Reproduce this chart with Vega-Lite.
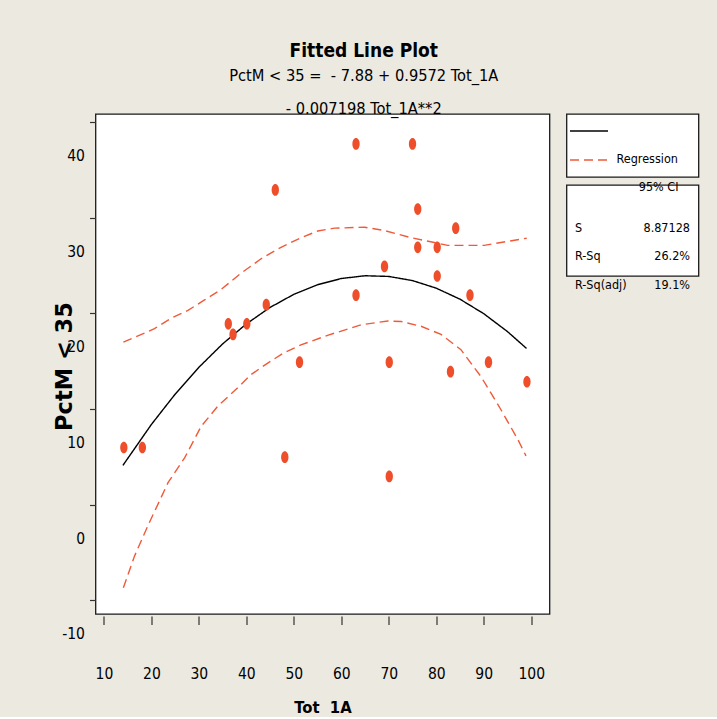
{
  "$schema": "https://vega.github.io/schema/vega-lite/v6.json",
  "background": "#ECE9E0",
  "padding": {"left": 51.5, "top": 42, "right": 18, "bottom": 0},
  "config": {
    "view": {"stroke": "#1a1a1a", "strokeWidth": 1.3, "fill": "white"},
    "font": "DejaVu Sans Condensed"
  },
  "title": {
    "text": "Fitted Line Plot",
    "subtitle": ["PctM < 35 =\u00a0 - 7.88 + 0.9572 Tot_1A", "- 0.007198 Tot_1A**2"],
    "anchor": "middle",
    "dx": -12,
    "font": "DejaVu Sans Condensed",
    "fontSize": 19,
    "fontWeight": "bold",
    "color": "black",
    "subtitleFont": "DejaVu Sans Condensed",
    "subtitleFontSize": 16.3,
    "subtitleColor": "black",
    "subtitleLineHeight": 33,
    "subtitlePadding": 7,
    "offset": -4
  },
  "datasets": {
    "curves": [
      {"curve": "fit", "series": "Regression", "Tot_1A": 14, "PctM": 4.11},
      {"curve": "fit", "series": "Regression", "Tot_1A": 20, "PctM": 8.385},
      {"curve": "fit", "series": "Regression", "Tot_1A": 25, "PctM": 11.551},
      {"curve": "fit", "series": "Regression", "Tot_1A": 30, "PctM": 14.358},
      {"curve": "fit", "series": "Regression", "Tot_1A": 35, "PctM": 16.804},
      {"curve": "fit", "series": "Regression", "Tot_1A": 40, "PctM": 18.891},
      {"curve": "fit", "series": "Regression", "Tot_1A": 45, "PctM": 20.618},
      {"curve": "fit", "series": "Regression", "Tot_1A": 50, "PctM": 21.985},
      {"curve": "fit", "series": "Regression", "Tot_1A": 55, "PctM": 22.992},
      {"curve": "fit", "series": "Regression", "Tot_1A": 60, "PctM": 23.639},
      {"curve": "fit", "series": "Regression", "Tot_1A": 65, "PctM": 23.927},
      {"curve": "fit", "series": "Regression", "Tot_1A": 70, "PctM": 23.854},
      {"curve": "fit", "series": "Regression", "Tot_1A": 75, "PctM": 23.421},
      {"curve": "fit", "series": "Regression", "Tot_1A": 80, "PctM": 22.629},
      {"curve": "fit", "series": "Regression", "Tot_1A": 85, "PctM": 21.477},
      {"curve": "fit", "series": "Regression", "Tot_1A": 90, "PctM": 19.964},
      {"curve": "fit", "series": "Regression", "Tot_1A": 95, "PctM": 18.092},
      {"curve": "fit", "series": "Regression", "Tot_1A": 99, "PctM": 16.335},
      {"curve": "upper", "series": "95% CI", "Tot_1A": 14.1, "PctM": 16.98},
      {"curve": "upper", "series": "95% CI", "Tot_1A": 20.65, "PctM": 18.4},
      {"curve": "upper", "series": "95% CI", "Tot_1A": 24.2, "PctM": 19.5},
      {"curve": "upper", "series": "95% CI", "Tot_1A": 27.7, "PctM": 20.3},
      {"curve": "upper", "series": "95% CI", "Tot_1A": 31.2, "PctM": 21.4},
      {"curve": "upper", "series": "95% CI", "Tot_1A": 34.7, "PctM": 22.5},
      {"curve": "upper", "series": "95% CI", "Tot_1A": 38.9, "PctM": 24.2},
      {"curve": "upper", "series": "95% CI", "Tot_1A": 43.1, "PctM": 25.7},
      {"curve": "upper", "series": "95% CI", "Tot_1A": 47.3, "PctM": 26.9},
      {"curve": "upper", "series": "95% CI", "Tot_1A": 51.5, "PctM": 27.9},
      {"curve": "upper", "series": "95% CI", "Tot_1A": 55.05, "PctM": 28.6},
      {"curve": "upper", "series": "95% CI", "Tot_1A": 58.55, "PctM": 28.9},
      {"curve": "upper", "series": "95% CI", "Tot_1A": 64.9, "PctM": 29.0},
      {"curve": "upper", "series": "95% CI", "Tot_1A": 69.1, "PctM": 28.65},
      {"curve": "upper", "series": "95% CI", "Tot_1A": 74.7, "PctM": 27.9},
      {"curve": "upper", "series": "95% CI", "Tot_1A": 79.6, "PctM": 27.4},
      {"curve": "upper", "series": "95% CI", "Tot_1A": 82.4, "PctM": 27.1},
      {"curve": "upper", "series": "95% CI", "Tot_1A": 90.1, "PctM": 27.1},
      {"curve": "upper", "series": "95% CI", "Tot_1A": 93.6, "PctM": 27.4},
      {"curve": "upper", "series": "95% CI", "Tot_1A": 99.05, "PctM": 27.85},
      {"curve": "lower", "series": "95% CI", "Tot_1A": 14.1, "PctM": -8.67},
      {"curve": "lower", "series": "95% CI", "Tot_1A": 16.45, "PctM": -5.37},
      {"curve": "lower", "series": "95% CI", "Tot_1A": 19.26, "PctM": -2.2},
      {"curve": "lower", "series": "95% CI", "Tot_1A": 23.5, "PctM": 2.3},
      {"curve": "lower", "series": "95% CI", "Tot_1A": 27, "PctM": 4.9},
      {"curve": "lower", "series": "95% CI", "Tot_1A": 30.5, "PctM": 8.2},
      {"curve": "lower", "series": "95% CI", "Tot_1A": 34, "PctM": 10.3},
      {"curve": "lower", "series": "95% CI", "Tot_1A": 37.5, "PctM": 11.9},
      {"curve": "lower", "series": "95% CI", "Tot_1A": 41, "PctM": 13.6},
      {"curve": "lower", "series": "95% CI", "Tot_1A": 44.5, "PctM": 14.8},
      {"curve": "lower", "series": "95% CI", "Tot_1A": 48, "PctM": 15.9},
      {"curve": "lower", "series": "95% CI", "Tot_1A": 51.5, "PctM": 16.7},
      {"curve": "lower", "series": "95% CI", "Tot_1A": 57.1, "PctM": 17.7},
      {"curve": "lower", "series": "95% CI", "Tot_1A": 64.2, "PctM": 18.8},
      {"curve": "lower", "series": "95% CI", "Tot_1A": 69.8, "PctM": 19.2},
      {"curve": "lower", "series": "95% CI", "Tot_1A": 72.6, "PctM": 19.15},
      {"curve": "lower", "series": "95% CI", "Tot_1A": 76.8, "PctM": 18.65},
      {"curve": "lower", "series": "95% CI", "Tot_1A": 81, "PctM": 17.8},
      {"curve": "lower", "series": "95% CI", "Tot_1A": 85.2, "PctM": 16.2},
      {"curve": "lower", "series": "95% CI", "Tot_1A": 89.4, "PctM": 13.4},
      {"curve": "lower", "series": "95% CI", "Tot_1A": 93.6, "PctM": 9.95},
      {"curve": "lower", "series": "95% CI", "Tot_1A": 97.2, "PctM": 6.8},
      {"curve": "lower", "series": "95% CI", "Tot_1A": 98.9, "PctM": 5.1}
    ],
    "points": [
      {"Tot_1A": 63.1, "PctM": 37.7},
      {"Tot_1A": 75.0, "PctM": 37.7},
      {"Tot_1A": 46.1, "PctM": 32.9},
      {"Tot_1A": 76.1, "PctM": 30.9},
      {"Tot_1A": 84.1, "PctM": 28.9},
      {"Tot_1A": 76.1, "PctM": 26.9},
      {"Tot_1A": 80.2, "PctM": 26.9},
      {"Tot_1A": 69.1, "PctM": 24.9},
      {"Tot_1A": 80.2, "PctM": 23.9},
      {"Tot_1A": 63.1, "PctM": 21.9},
      {"Tot_1A": 87.1, "PctM": 21.9},
      {"Tot_1A": 44.2, "PctM": 20.9},
      {"Tot_1A": 36.2, "PctM": 18.9},
      {"Tot_1A": 40.1, "PctM": 18.9},
      {"Tot_1A": 37.2, "PctM": 17.8},
      {"Tot_1A": 51.2, "PctM": 14.9},
      {"Tot_1A": 70.1, "PctM": 14.9},
      {"Tot_1A": 91.0, "PctM": 14.9},
      {"Tot_1A": 83.0, "PctM": 13.9},
      {"Tot_1A": 99.1, "PctM": 12.85},
      {"Tot_1A": 14.2, "PctM": 5.98},
      {"Tot_1A": 18.1, "PctM": 5.98},
      {"Tot_1A": 48.1, "PctM": 4.97},
      {"Tot_1A": 70.1, "PctM": 2.96}
    ],
    "legend": [
      {"series": "Regression"},
      {"series": "95% CI"}
    ],
    "stats": [
      {"stat": "S", "value": "8.87128"},
      {"stat": "R-Sq", "value": "26.2%"},
      {"stat": "R-Sq(adj)", "value": "19.1%"}
    ]
  },
  "spacing": 15,
  "hconcat": [
    {
      "width": 454,
      "height": 500,
      "layer": [
        {
          "data": {"name": "curves"},
          "mark": {"type": "line", "strokeWidth": 1.4, "clip": true},
          "encoding": {
            "x": {
              "field": "Tot_1A", "type": "quantitative",
              "scale": {"domain": [8.23, 103.85], "nice": false, "zero": false},
              "axis": {
                "values": [10, 20, 30, 40, 50, 60, 70, 80, 90, 100],
                "title": "Tot\u00a0 1A",
                "titleFont": "DejaVu Sans Condensed",
                "titleFontWeight": "bold", "titleFontSize": 16.5, "titleColor": "black",
                "titleBaseline": "middle", "titleX": 227, "titleY": 91,
                "domain": false, "grid": false, "offset": 2,
                "tickSize": 8.5, "tickColor": "#333", "tickWidth": 1.2,
                "labelFont": "DejaVu Sans Condensed",
                "labelFontSize": 15.5, "labelColor": "black", "labelPadding": 49,
                "labelBaseline": "middle", "labelFlush": false, "labelOverlap": false
              }
            },
            "y": {
              "field": "PctM", "type": "quantitative",
              "scale": {"domain": [-11.42, 40.83], "nice": false, "zero": false},
              "axis": {
                "values": [-10, 0, 10, 20, 30, 40],
                "labelExpr": "'' + datum.value",
                "title": "PctM < 35",
                "titleFont": "DejaVu Sans", "titleFontWeight": "bold", "titleFontSize": 22.5,
                "titleColor": "black", "titleX": -31.5, "titleY": 252, "titleBaseline": "middle",
                "domain": false, "grid": false,
                "tickSize": 6, "tickColor": "#333", "tickWidth": 1.2,
                "labelOffset": 33.5, "labelPadding": 5,
                "labelFont": "DejaVu Sans Condensed",
                "labelFontSize": 15.5, "labelColor": "black", "labelFlush": false, "labelOverlap": false
              }
            },
            "detail": {"field": "curve"},
            "color": {"field": "series", "type": "nominal", "scale": {"domain": ["Regression", "95% CI"], "range": ["#000000", "#EF5A3A"]}, "legend": null},
            "strokeDash": {"field": "series", "type": "nominal", "scale": {"domain": ["Regression", "95% CI"], "range": [[1, 0], [9, 5]]}, "legend": null},
            "order": {"field": "Tot_1A", "type": "quantitative"}
          }
        },
        {
          "data": {"name": "points"},
          "mark": {"type": "point", "filled": true, "shape": "M0,-1A0.625,1,0,1,1,0,1A0.625,1,0,1,1,0,-1Z", "size": 137, "color": "#EF4E2B", "opacity": 1},
          "encoding": {
            "x": {"field": "Tot_1A", "type": "quantitative"},
            "y": {"field": "PctM", "type": "quantitative"}
          }
        }
      ]
    },
    {
      "spacing": 8,
      "bounds": "flush",
      "vconcat": [
        {
          "width": 132,
          "height": 63,
          "data": {"name": "legend"},
          "layer": [
            {
              "mark": {"type": "rule", "strokeWidth": 1.5},
              "encoding": {
                "y": {"field": "series", "type": "nominal", "scale": {"type": "point", "domain": ["Regression", "95% CI"], "padding": 0.586}, "axis": null},
                "x": {"datum": 0, "type": "quantitative", "scale": {"domain": [-0.092, 3.38], "nice": false, "zero": false}, "axis": null},
                "x2": {"datum": 1},
                "color": {"field": "series", "type": "nominal", "scale": {"domain": ["Regression", "95% CI"], "range": ["#000000", "#EF5A3A"]}, "legend": null},
                "strokeDash": {"field": "series", "type": "nominal", "scale": {"domain": ["Regression", "95% CI"], "range": [[1, 0], [9, 5]]}, "legend": null}
              }
            },
            {
              "transform": [{"filter": "datum.series === 'Regression'"}],
              "mark": {"type": "text", "align": "right", "baseline": "middle", "dy": 28, "fontSize": 12.5, "color": "black"},
              "encoding": {
                "y": {"field": "series", "type": "nominal"},
                "x": {"datum": 2.84, "type": "quantitative"},
                "text": {"field": "series"}
              }
            }
          ]
        },
        {
          "width": 132,
          "height": 91,
          "title": {"text": "95% CI", "anchor": "end", "dx": -20, "offset": -8, "font": "DejaVu Sans Condensed", "fontSize": 12.5, "fontWeight": "normal", "color": "black"},
          "data": {"name": "stats"},
          "layer": [
            {
              "mark": {"type": "text", "align": "left", "baseline": "middle", "fontSize": 12.5, "color": "black"},
              "encoding": {
                "y": {"field": "stat", "type": "nominal", "scale": {"type": "point", "domain": ["S", "R-Sq", "R-Sq(adj)"], "range": [42.5, 99.5], "padding": 0}, "axis": null},
                "x": {"datum": "stat", "type": "nominal", "scale": {"type": "point", "domain": ["stat", "value"], "padding": 0.074}, "axis": null},
                "text": {"field": "stat"}
              }
            },
            {
              "mark": {"type": "text", "align": "right", "baseline": "middle", "fontSize": 12.5, "color": "black"},
              "encoding": {
                "y": {"field": "stat", "type": "nominal"},
                "x": {"datum": "value", "type": "nominal"},
                "text": {"field": "value"}
              }
            }
          ]
        }
      ]
    }
  ]
}
